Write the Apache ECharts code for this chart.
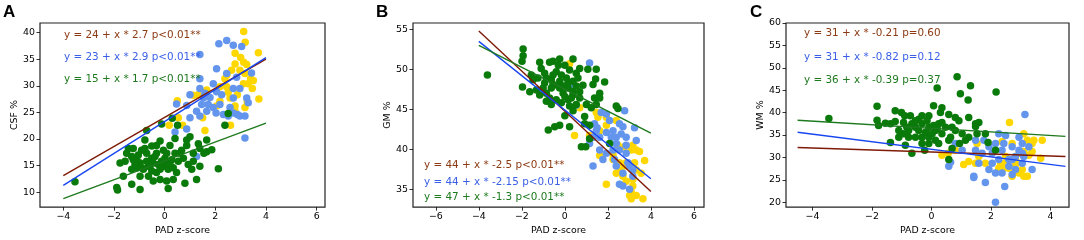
<!DOCTYPE html>
<html>
<head>
<meta charset="utf-8">
<script src="https://cdn.jsdelivr.net/npm/echarts@6/dist/echarts.min.js"></script>
<style>
  html, body { margin: 0; background: #fff; }
  #chart { width: 1084px; height: 240px; }
</style>
</head>
<body>
<div id="chart"></div>
<script>
// ---- panel A : CSF % vs PAD z-score ----
const csfYellow = [[3.12,40.2],[3.18,38.2],[3.70,36.2],[2.78,36.1],[3.12,34.4],[3.24,34.0],[2.78,34.1],[2.64,32.9],[2.45,32.0],[2.97,32.9],[3.17,32.3],[3.39,31.3],[3.11,30.4],[3.46,29.5],[2.45,29.8],[2.51,28.8],[1.66,29.2],[1.33,28.3],[3.72,27.5],[3.26,27.0],[2.18,27.1],[2.05,26.2],[2.78,26.2],[3.17,25.9],[0.50,27.2],[1.50,24.0],[0.71,22.6],[2.60,22.6],[1.59,21.6],[0.54,24.0],[1.13,28.2],[2.58,27.7],[2.87,28.3],[2.18,29.8],[3.30,30.4],[3.50,31.0],[2.78,25.2],[2.38,31.3],[3.00,35.3],[0.18,22.6]]
const csfBlue = [[2.45,38.5],[2.14,37.9],[2.71,37.6],[3.04,37.4],[1.39,35.9],[2.05,33.2],[2.45,32.3],[2.84,31.6],[3.43,32.4],[1.39,31.3],[1.92,30.4],[1.39,29.5],[1.59,28.6],[1.79,27.8],[1.00,28.3],[0.47,26.6],[0.87,26.3],[1.53,27.7],[1.72,26.5],[1.26,25.2],[1.39,24.3],[2.03,24.9],[2.32,24.6],[2.51,24.3],[2.71,24.9],[2.87,24.6],[2.97,24.3],[3.17,24.3],[2.58,25.9],[2.25,28.3],[2.71,27.7],[3.30,26.8],[1.00,24.0],[0.41,21.3],[0.87,21.9],[3.17,20.2],[1.26,16.7],[1.92,25.9],[2.18,26.5],[2.97,29.5],[2.71,29.5],[3.24,27.7],[2.05,28.9],[1.66,25.2],[1.46,26.5]]
const csfGreen = [[-3.54,11.95],[-0.71,21.6],[-0.12,22.8],[0.30,23.9],[0.51,22.6],[2.51,24.8],[2.38,22.6],[-0.78,19.8],[-0.18,19.6],[0.41,20.1],[0.87,19.8],[1.33,19.1],[1.66,19.8],[1.86,18.0],[1.13,17.3],[1.39,18.2],[1.55,17.3],[0.67,17.9],[0.21,18.8],[-0.05,17.9],[-0.32,17.3],[-0.51,16.4],[-0.71,17.3],[-0.91,17.9],[-1.24,18.2],[-1.50,17.3],[-1.30,16.7],[-1.10,16.1],[-0.97,15.5],[-0.71,15.8],[-0.45,15.5],[-0.25,15.2],[-0.05,14.9],[0.08,15.5],[0.14,14.3],[0.34,14.6],[0.47,13.7],[0.28,16.1],[0.54,15.8],[0.74,16.4],[0.93,15.2],[1.13,15.8],[1.39,14.9],[0.60,17.3],[-1.30,14.3],[-0.97,13.0],[-0.64,13.0],[-0.32,13.7],[-0.18,12.4],[0.08,12.1],[-1.76,15.5],[-1.63,13.0],[-1.30,11.5],[-1.89,10.9],[-1.86,10.4],[-0.97,10.5],[0.14,10.7],[0.80,11.7],[1.26,12.4],[2.12,14.4],[-1.43,18.2],[-1.04,17.0],[-0.51,18.7],[-0.32,18.8],[0.01,16.4],[-0.38,16.7],[-0.64,14.9],[-0.18,14.3],[-0.51,14.0],[-0.84,14.3],[-1.10,14.6],[-1.17,15.2],[-0.78,18.2],[0.08,17.3],[-0.12,15.8],[0.21,15.2],[0.41,17.3],[0.87,18.8],[1.00,20.4],[-0.58,14.9],[-1.24,16.1],[-1.56,15.8],[0.34,12.4],[-0.45,12.1],[1.66,17.6],[1.07,14.3],[-0.91,14.6]]
const csfFitBrown = [[-4, 13.1], [4, 35.0]]
const csfFitBlue = [[-4, 11.3], [4, 35.3]]
const csfFitGreen = [[-4, 8.8], [4, 23.0]]
const csfEquations = ['y = 24 + x * 2.7 p<0.01**', 'y = 23 + x * 2.9 p<0.01**', 'y = 15 + x * 1.7 p<0.01**']
const csfXTicks = [-4, -2, 0, 2, 4, 6]
const csfYTicks = [10, 15, 20, 25, 30, 35, 40]

// ---- panel B : GM % vs PAD z-score ----
const gmYellow = [[0.22,50.7],[0.69,45.2],[1.46,44.6],[1.54,44.0],[1.93,44.0],[2.39,43.6],[1.93,43.0],[0.45,41.7],[1.15,41.7],[1.62,42.3],[2.47,40.5],[2.78,40.3],[3.09,39.9],[3.32,39.9],[3.47,39.7],[3.16,40.5],[2.24,39.3],[2.54,38.3],[2.24,38.7],[2.78,37.9],[2.39,37.0],[2.54,37.4],[2.70,36.6],[2.85,38.3],[3.24,38.3],[3.32,37.4],[3.71,38.6],[3.16,35.4],[3.09,34.6],[3.01,34.2],[3.32,34.2],[3.09,33.8],[3.63,33.8],[3.16,36.2],[1.93,35.6],[3.55,37.0],[1.62,39.2],[2.85,36.0]]
const gmBlue = [[1.15,50.8],[0.38,47.9],[0.53,45.5],[2.78,44.8],[1.69,44.6],[1.38,43.2],[1.50,42.7],[1.62,41.5],[1.93,42.1],[2.24,42.3],[2.54,43.2],[2.70,42.8],[2.85,41.5],[2.39,40.7],[2.54,39.9],[2.85,39.5],[2.24,39.9],[1.62,39.9],[1.77,38.7],[1.31,37.9],[2.39,37.9],[2.70,37.0],[3.01,37.9],[2.54,35.6],[2.70,35.4],[3.01,35.0],[3.16,36.6],[3.32,41.1],[3.24,42.7],[2.08,43.6],[1.93,44.4],[1.31,41.5],[1.15,40.7],[2.39,41.5],[2.85,40.5],[2.93,38.3],[2.31,38.7],[1.93,39.5],[3.16,37.4],[1.46,42.3],[2.16,41.5],[2.62,41.9]]
const gmGreen = [[-3.60,49.3],[-1.94,52.55],[-1.94,51.7],[-1.99,51.0],[-1.97,47.8],[-1.56,49.3],[-1.17,50.9],[-1.10,50.1],[-0.71,50.9],[-0.55,51.0],[-0.24,51.3],[0.38,51.3],[0.69,50.1],[0.53,49.5],[1.07,50.0],[1.46,50.0],[1.43,48.8],[1.85,48.4],[1.31,48.1],[1.62,47.0],[1.38,46.4],[0.84,48.0],[-0.86,48.9],[-0.55,48.1],[-0.24,48.5],[0.07,48.9],[0.15,47.65],[0.38,47.2],[-0.08,47.0],[-0.30,47.9],[-0.63,48.7],[-0.94,48.3],[-1.25,48.9],[-1.48,48.7],[-1.63,47.2],[-1.32,47.4],[-1.01,47.65],[-0.71,46.4],[-0.86,46.0],[-0.63,45.6],[-0.40,46.2],[-0.16,45.8],[0.15,46.2],[0.22,45.4],[0.53,45.6],[0.69,46.4],[1.00,45.6],[1.23,45.2],[1.46,45.6],[2.39,45.4],[2.47,45.1],[0.00,44.2],[-0.24,43.0],[-0.47,42.8],[-0.77,42.4],[0.22,42.8],[0.92,44.1],[0.92,43.2],[1.15,43.0],[0.77,40.3],[0.97,40.3],[1.15,41.3],[2.08,40.7],[0.38,46.8],[0.69,47.2],[0.53,47.9],[-0.40,49.7],[-0.16,49.3],[0.22,49.9],[0.00,50.5],[-0.30,50.5],[-0.94,49.5],[-0.55,49.3],[0.15,48.3],[-0.08,47.9],[0.38,48.5],[0.61,48.9],[0.30,46.4],[0.00,46.6],[-1.17,46.8],[-0.86,47.0],[0.38,44.8],[1.62,46.4],[-0.63,47.65],[-0.24,47.65]]
const gmFitBrown = [[-4, 54.8], [4, 34.7]]
const gmFitBlue = [[-4, 53.5], [4, 36.3]]
const gmFitGreen = [[-4, 53.0], [4, 42.0]]
const gmEquations = ['y = 44 + x * -2.5 p<0.01**', 'y = 44 + x * -2.15 p<0.01**', 'y = 47 + x * -1.3 p<0.01**']
const gmXTicks = [-6, -4, -2, 0, 2, 4, 6]
const gmYTicks = [35, 40, 45, 50, 55]

// ---- panel C : WM % vs PAD z-score ----
const wmYellow = [[2.62,37.8],[3.10,35.3],[3.22,33.8],[3.44,33.8],[3.72,33.8],[3.67,29.8],[3.38,31.3],[3.10,31.3],[2.94,30.9],[2.82,29.5],[2.49,30.2],[2.32,28.7],[2.71,33.1],[2.37,33.5],[1.53,33.1],[1.48,28.7],[1.08,28.4],[1.25,29.1],[1.59,30.2],[0.35,30.5],[0.56,30.9],[0.80,31.6],[1.81,28.7],[2.49,28.7],[2.60,27.6],[2.82,28.4],[3.05,27.3],[3.22,25.8],[3.10,25.8],[2.94,26.5],[2.71,25.8],[2.43,27.6],[2.26,27.6],[3.38,33.1],[3.27,30.5]]
const wmBlue = [[3.14,39.6],[2.15,20.0],[2.46,23.5],[0.58,28.0],[0.64,28.9],[1.42,25.8],[1.42,25.5],[1.81,24.4],[2.37,26.5],[2.60,28.0],[2.71,29.5],[2.82,30.2],[3.05,30.9],[2.37,31.6],[2.15,33.1],[1.93,32.4],[1.70,30.9],[1.48,31.6],[2.26,35.3],[2.49,34.9],[2.94,34.5],[3.05,33.1],[3.27,32.4],[2.82,27.3],[3.05,28.7],[2.60,29.5],[2.26,29.5],[2.04,28.7],[1.59,28.7],[3.38,27.3],[3.10,30.2],[2.71,32.4],[0.80,33.1],[1.03,31.6],[1.76,33.8],[2.04,30.9],[2.43,33.1],[2.71,26.2],[2.15,26.5],[1.93,27.3],[1.48,33.8],[2.94,31.6]]
const wmGreen = [[-3.45,38.7],[-1.83,41.4],[-1.83,38.3],[-1.78,37.1],[-1.55,37.6],[-1.38,33.3],[-1.22,40.4],[-1.22,38.0],[-1.01,40.0],[-0.90,39.3],[-0.71,39.3],[-0.43,38.5],[-0.32,39.3],[-0.09,39.3],[0.07,41.5],[0.19,45.5],[0.30,40.0],[0.35,41.1],[0.58,39.6],[0.69,36.7],[0.80,36.0],[0.86,48.0],[0.97,44.2],[1.23,42.8],[1.31,46.0],[2.17,44.6],[1.25,38.9],[1.48,37.5],[1.48,36.9],[1.53,35.3],[1.90,33.3],[-1.10,34.5],[-0.88,32.7],[-0.66,30.9],[-0.23,31.6],[0.58,29.5],[0.64,34.5],[0.13,36.0],[-0.09,36.7],[-0.32,37.5],[-0.54,36.7],[-0.77,36.0],[-0.94,35.3],[-0.32,34.5],[-0.09,34.5],[0.13,33.8],[0.35,35.3],[-0.54,34.5],[-0.77,34.5],[-0.09,33.1],[0.24,33.1],[-1.10,36.0],[0.92,38.2],[1.03,35.3],[1.25,34.5],[0.94,33.1],[2.15,31.6],[1.81,35.3],[1.14,33.8],[0.07,37.1],[0.24,37.5],[0.47,36.7],[-0.15,38.2],[-0.54,38.2],[-0.66,37.5],[-0.43,36.0],[-0.20,35.6],[0.02,35.3],[0.19,36.4],[0.35,37.8],[-0.32,33.1],[-0.83,36.7],[0.58,33.8],[0.69,32.0],[0.80,38.9],[1.59,37.8],[-1.38,37.5],[-0.94,37.8]]
const wmFitBrown = [[-4.5, 32.2], [4.5, 30.2]]
const wmFitBlue = [[-4.5, 35.6], [4.5, 28.0]]
const wmFitGreen = [[-4.5, 38.3], [4.5, 34.7]]
const wmEquations = ['y = 31 + x * -0.21 p=0.60', 'y = 31 + x * -0.82 p=0.12', 'y = 36 + x * -0.39 p=0.37']
const wmXTicks = [-4, -2, 0, 2, 4]
const wmYTicks = [20, 25, 30, 35, 40, 45, 50, 55, 60]

const dotColors = ['#FFD700', '#6495ED', '#0A7A0A']      // yellow, blue, green
const lineColors = ['#7E1A05', '#1846F0', '#1E7A1E']     // brown, blue, green
const textColors = ['#8B3A12', '#3A5FE6', '#1E7A1E']
const font = 'DejaVu Sans'

const panels = [
  { letter: 'A', letterX: 10, yName: 'CSF %', nameGap: 21,
    grid: { left: 40, top: 23, width: 285, height: 189 },
    xMin: -4.92, xMax: 6.33, yMin: 7.2, yMax: 41.8, xTicks: csfXTicks, yTicks: csfYTicks,
    dots: [csfYellow, csfBlue, csfGreen], fits: [csfFitBrown, csfFitBlue, csfFitGreen],
    eqs: csfEquations, eqX: 64, eqY: [35, 57, 79] },
  { letter: 'B', letterX: 383, yName: 'GM %', nameGap: 18,
    grid: { left: 413, top: 23, width: 291, height: 189 },
    xMin: -7.06, xMax: 6.47, yMin: 32.75, yMax: 55.8, xTicks: gmXTicks, yTicks: gmYTicks,
    dots: [gmYellow, gmBlue, gmGreen], fits: [gmFitBrown, gmFitBlue, gmFitGreen],
    eqs: gmEquations, eqX: 424, eqY: [165, 182, 197] },
  { letter: 'C', letterX: 757, yName: 'WM %', nameGap: 17,
    grid: { left: 786, top: 23, width: 283, height: 189 },
    xMin: -4.89, xMax: 4.62, yMin: 18.9, yMax: 60, xTicks: wmXTicks, yTicks: wmYTicks,
    dots: [wmYellow, wmBlue, wmGreen], fits: [wmFitBrown, wmFitBlue, wmFitGreen],
    eqs: wmEquations, eqX: 804, eqY: [33, 57, 80] }
]

const minus = v => (v < 0 ? '\u2212' + Math.abs(v) : String(v))
const tickStyle = { show: true, inside: false, length: 3.5, lineStyle: { color: '#000', width: 0.8 } }
const labelStyle = { color: '#000', fontFamily: font, fontSize: 9.4, formatter: minus }

const grid = []
const xAxis = []
const yAxis = []
const series = []
const graphic = []

panels.forEach((p, i) => {
  grid.push(Object.assign({ show: true, borderColor: '#222', borderWidth: 1.2, backgroundColor: '#fff' }, p.grid))
  xAxis.push({
    type: 'value', gridIndex: i, min: p.xMin, max: p.xMax, position: 'bottom',
    name: 'PAD z-score', nameLocation: 'middle', nameGap: 15,
    nameTextStyle: { color: '#000', fontFamily: font, fontSize: 9.4 },
    axisLine: { show: false, onZero: false }, splitLine: { show: false },
    axisTick: Object.assign({ customValues: p.xTicks }, tickStyle),
    axisLabel: Object.assign({ customValues: p.xTicks, margin: 5 }, labelStyle)
  })
  yAxis.push({
    type: 'value', gridIndex: i, min: p.yMin, max: p.yMax, position: 'left',
    name: p.yName, nameLocation: 'middle', nameGap: p.nameGap,
    nameTextStyle: { color: '#000', fontFamily: font, fontSize: 9.4 },
    axisLine: { show: false, onZero: false }, splitLine: { show: false },
    axisTick: Object.assign({ customValues: p.yTicks }, tickStyle),
    axisLabel: Object.assign({ customValues: p.yTicks, margin: 5 }, labelStyle)
  })
  p.dots.forEach((d, k) => {
    series.push({
      type: 'scatter', xAxisIndex: i, yAxisIndex: i, data: d,
      symbolSize: 7.5, itemStyle: { color: dotColors[k], opacity: 1 }, z: 2 + k, silent: true
    })
  })
  p.fits.forEach((f, k) => {
    series.push({
      type: 'line', xAxisIndex: i, yAxisIndex: i, data: f, showSymbol: false,
      lineStyle: { color: lineColors[k], width: 1.4 }, z: 10, silent: true
    })
  })
  graphic.push({
    type: 'text', left: p.letterX - 7, top: 4,
    style: { text: p.letter, fill: '#000', font: 'bold 17px "Liberation Sans", Arial' }
  })
  p.eqs.forEach((t, k) => {
    graphic.push({
      type: 'text', x: p.eqX, y: p.eqY[k], z: 20,
      style: { text: t, fill: textColors[k], font: '10.4px "' + font + '"', verticalAlign: 'middle' }
    })
  })
})

const chart = echarts.init(document.getElementById('chart'), null, { renderer: 'canvas' })
chart.setOption({
  animation: false,
  backgroundColor: '#fff',
  grid, xAxis, yAxis, series, graphic
})
</script>
</body>
</html>
